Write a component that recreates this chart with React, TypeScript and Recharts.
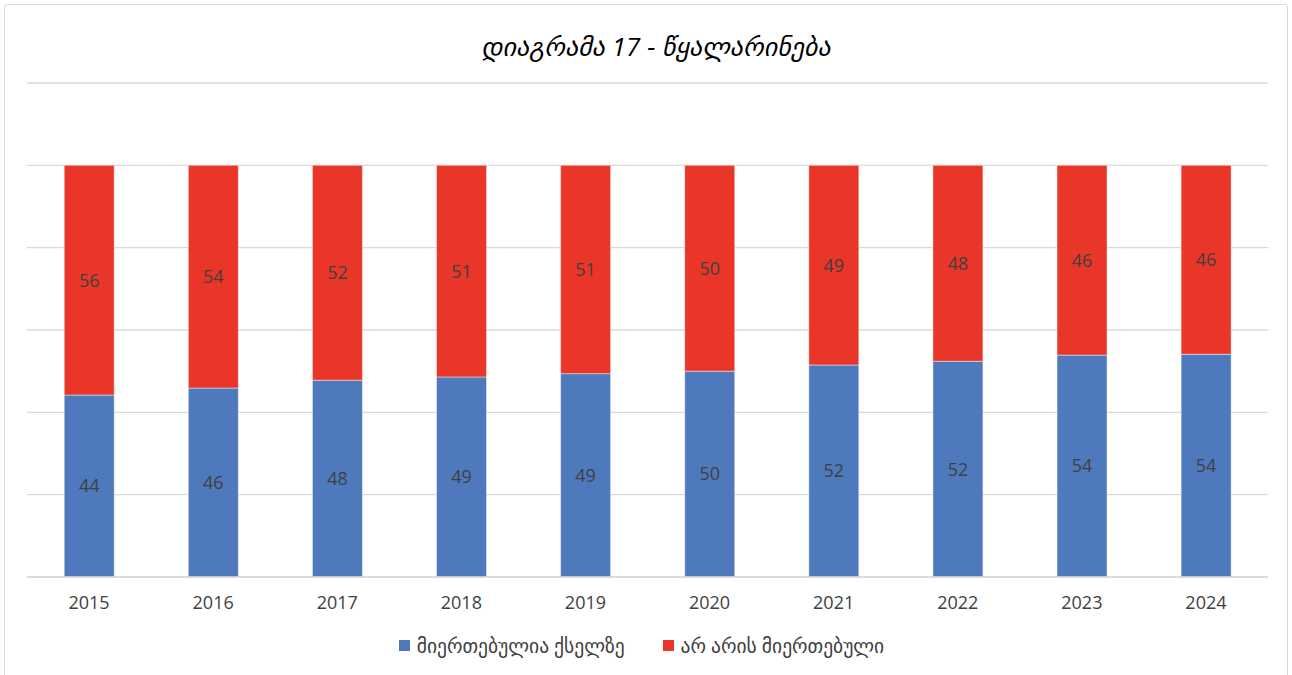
import { BarChart, Bar, XAxis, YAxis, CartesianGrid, Legend, LabelList } from "recharts";

const years = ["2015", "2016", "2017", "2018", "2019", "2020", "2021", "2022", "2023", "2024"];
const connected = [44.2, 45.9, 47.8, 48.6, 49.4, 50.0, 51.5, 52.4, 53.9, 54.1];
const notConnected = [55.8, 54.1, 52.2, 51.4, 50.6, 50.0, 48.5, 47.6, 46.1, 45.9];
const yTicks = [0, 20, 40, 60, 80, 100, 120];

const seriesNames = ["მიერთებულია ქსელზე", "არ არის მიერთებული"];
const title = "დიაგრამა 17 - წყალარინება";

const BLUE = "#4e79bd";
const RED = "#e93628";
const TEXT = "#404040";
const FONT = '"Open Sans", "DejaVu Sans", sans-serif';

const data = years.map((year, i) => ({
  year,
  connected: connected[i],
  notConnected: notConnected[i],
}));

const fmt = (v: any) => Math.round(Number(v));

function LegendBox() {
  const items = [
    { name: seriesNames[0], color: BLUE },
    { name: seriesNames[1], color: RED },
  ];
  return (
    <div style={{ display: "flex", justifyContent: "center", alignItems: "center", height: 40, paddingRight: 12, fontFamily: FONT, fontSize: 19.5, color: TEXT }}>
      {items.map((it, i) => (
        <div key={it.name} style={{ display: "flex", alignItems: "center", marginLeft: i ? 38 : 0 }}>
          <span style={{ width: 11, height: 11, background: it.color, marginRight: 7, display: "inline-block" }} />
          <span>{it.name}</span>
        </div>
      ))}
    </div>
  );
}

export default function App() {
  return (
    <div style={{ position: "absolute", left: 0, top: 0, width: 1292, height: 675, background: "#fff", overflow: "hidden" }}>
      <div style={{ position: "absolute", left: 4, top: 4, width: 1282, height: 690, border: "1px solid #d9d9d9", borderRadius: 3 }} />
      <div style={{ position: "absolute", left: 0, top: 28, width: 1312, textAlign: "center", fontFamily: FONT, fontStyle: "italic", fontSize: 26, color: "#000" }}>
        {title}
      </div>
      <BarChart
        width={1292}
        height={675}
        data={data}
        margin={{ top: 83, right: 24, left: 27, bottom: 10 }}
        barCategoryGap="30%"
        style={{ fontFamily: FONT }}
      >
        <CartesianGrid vertical={false} stroke="#d9d9d9" strokeWidth={1.3} />
        <YAxis hide domain={[0, 120]} ticks={yTicks} />
        <XAxis
          dataKey="year"
          axisLine={{ stroke: "#d9d9d9", strokeWidth: 1.3 }}
          tickLine={false}
          height={48}
          tickMargin={13}
          tick={{ fill: TEXT, fontSize: 18 }}
        />
        <Legend verticalAlign="bottom" content={() => <LegendBox />} />
        <Bar dataKey="connected" name={seriesNames[0]} stackId="a" fill={BLUE} stroke="rgba(255,255,255,0.45)" strokeWidth={1} isAnimationActive={false}>
          <LabelList dataKey="connected" position="center" formatter={fmt} fill={TEXT} fontSize={18} />
        </Bar>
        <Bar dataKey="notConnected" name={seriesNames[1]} stackId="a" fill={RED} stroke="rgba(255,255,255,0.45)" strokeWidth={1} isAnimationActive={false}>
          <LabelList dataKey="notConnected" position="center" formatter={fmt} fill={TEXT} fontSize={18} />
        </Bar>
      </BarChart>
    </div>
  );
}
